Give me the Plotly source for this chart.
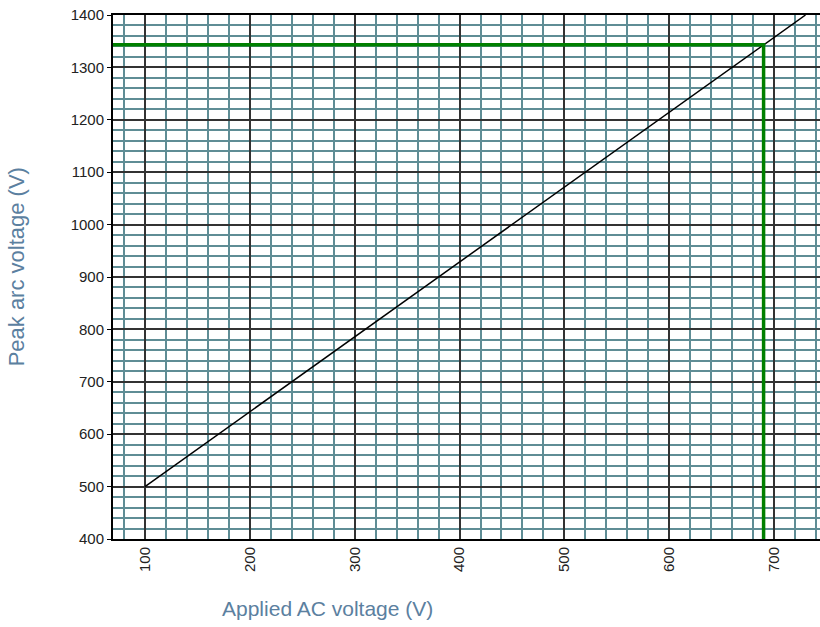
import plotly.graph_objects as go

# axis extents
x_range = [69.5, 743.8]
y_range = [400, 1400]
x_ticks = [100, 200, 300, 400, 500, 600, 700]
y_ticks = [400, 500, 600, 700, 800, 900, 1000, 1100, 1200, 1300, 1400]

# characteristic line (applied AC voltage -> peak arc voltage)
line_x = [100, 730]
line_y = [500, 1400]

# reading marked in green
read_x = 690
read_y = 1343

MAJOR_GRID = "#333333"
MINOR_GRID = "#5f8d95"
TITLE_COLOR = "#5b80a0"
FONT = "Liberation Sans, Arial, sans-serif"

curve = go.Scatter(
    x=line_x,
    y=line_y,
    mode="lines",
    line=dict(color="black", width=1.5),
    hoverinfo="skip",
)

reading = go.Scatter(
    x=[x_range[0], read_x, read_x],
    y=[read_y, read_y, y_range[0]],
    mode="lines",
    line=dict(color="#008000", width=3.5),
    hoverinfo="skip",
)

fig = go.Figure(data=[curve, reading])

fig.update_layout(
    width=820,
    height=627,
    margin=dict(l=113, r=0, t=15, b=88),
    paper_bgcolor="white",
    plot_bgcolor="white",
    showlegend=False,
    font=dict(family=FONT, size=15, color="#222222"),
    xaxis=dict(
        range=x_range,
        tickvals=x_ticks,
        tickangle=-90,
        showgrid=True,
        gridcolor=MAJOR_GRID,
        gridwidth=2,
        minor=dict(dtick=20, tick0=0, showgrid=True, gridcolor=MINOR_GRID, gridwidth=2),
        showline=True,
        mirror=True,  # black border along the top
        linecolor="black",
        linewidth=2,
        ticks="",
        zeroline=False,
    ),
    yaxis=dict(
        range=y_range,
        tickvals=y_ticks,
        showgrid=True,
        gridcolor=MAJOR_GRID,
        gridwidth=2,
        minor=dict(dtick=20, tick0=0, showgrid=True, gridcolor=MINOR_GRID, gridwidth=2),
        showline=True,
        linecolor="black",
        linewidth=2,
        ticks="outside",
        ticklen=4,
        tickcolor="black",
        zeroline=False,
    ),
    annotations=[
        dict(
            text="Applied AC voltage (V)",
            xref="paper", yref="paper",
            x=0.303, y=-0.132,
            xanchor="center", yanchor="middle",
            showarrow=False,
            font=dict(family=FONT, size=21, color=TITLE_COLOR),
        ),
        dict(
            text="Peak arc voltage (V)",
            xref="paper", yref="paper",
            x=-0.136, y=0.52,
            xanchor="center", yanchor="middle",
            textangle=-90,
            showarrow=False,
            font=dict(family=FONT, size=22, color=TITLE_COLOR),
        ),
    ],
)

# drop the default page margin so the figure sits at the window's corner
fig.write_html(
    "out.html",
    config={"displayModeBar": False},
    post_script="document.body.style.margin = '0px';",
)
